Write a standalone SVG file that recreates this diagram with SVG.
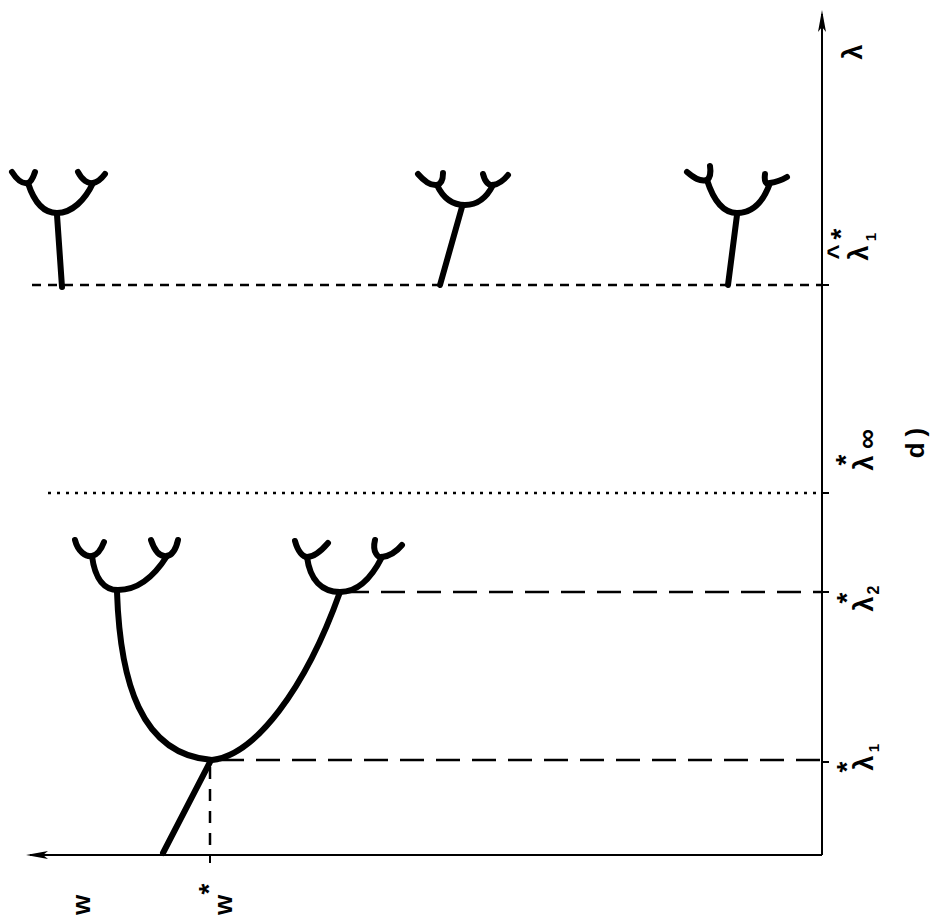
<svg xmlns="http://www.w3.org/2000/svg" width="934" height="921" viewBox="0 0 934 921">
<defs>
<style>
.ax{stroke:#000;stroke-width:2;fill:none}
.ah{fill:#000;stroke:none}
.tk{stroke:#000;stroke-width:2;fill:none}
.br{stroke:#000;stroke-width:6;fill:none;stroke-linecap:round;stroke-linejoin:round}
.sd{stroke:#000;stroke-width:2.5;fill:none;stroke-dasharray:9 7}
.dt{stroke:#000;stroke-width:2.5;fill:none;stroke-dasharray:3 6}
.ld{stroke:#000;stroke-width:2.5;fill:none;stroke-dasharray:24 12}
.vd{stroke:#000;stroke-width:2.5;fill:none;stroke-dasharray:12 10}
.t{font-family:"Liberation Sans",Arial,sans-serif;fill:#000;text-anchor:middle;font-weight:bold}
</style>
</defs>
<rect width="934" height="921" fill="#fff"/>
<g id="connectors">
<line class="ax" x1="822" y1="855" x2="822" y2="14"/>
<path class="ah" d="M822,10 L826,32 L822,27 L818,32 Z"/>
<line class="ax" x1="822" y1="855" x2="30" y2="855"/>
<path class="ah" d="M26,855 L48,851 L43,855 L48,859 Z"/>
<path class="tk" d="M822,285 H829 M822,493 H829 M822,592 H829 M822,762 H829 M210,855 V863"/>
<line class="sd" x1="32" y1="285" x2="822" y2="285"/>
<line class="dt" x1="48" y1="493" x2="822" y2="493"/>
<line class="ld" x1="345" y1="592" x2="822" y2="592"/>
<line class="ld" x1="220" y1="760" x2="822" y2="760"/>
<line class="vd" x1="210" y1="767" x2="210" y2="855"/>
</g>
<g id="tree-main">
<path class="br" d="M163,853 L210,762"/>
<path class="br" d="M117,592 C120,680 140,755 212,760 C255,755 305,690 340,592"/>
<path class="br" d="M92,556 C95,580 105,590 118,590 C140,590 155,575 167,556"/>
<path class="br" d="M75,540 C78,552 86,557 92,556 C97,555 101,550 104,542"/>
<path class="br" d="M151,540 C155,552 161,557 167,556 C172,555 176,549 178,540"/>
<path class="br" d="M307,557 C310,580 322,592 340,592 C358,592 372,577 382,557"/>
<path class="br" d="M295,541 C298,552 303,557 307,557 C315,557 322,550 328,543"/>
<path class="br" d="M375,540 C372,552 378,558 382,557 C390,556 397,551 402,545"/>
</g>
<g id="tree-a">
<path class="br" d="M57,215 L62,287"/>
<path class="br" d="M28,183 C35,205 45,213 57,213 C72,213 85,200 93,183"/>
<path class="br" d="M12,172 C17,180 23,184 28,183 C31,182 33,178 35,172"/>
<path class="br" d="M78,172 C82,180 88,184 93,183 C98,182 102,178 105,174"/>
</g>
<g id="tree-b">
<path class="br" d="M462,207 L440,285"/>
<path class="br" d="M437,185 C443,198 452,205 465,205 C478,205 487,197 493,185"/>
<path class="br" d="M418,174 C424,181 430,186 437,185 C441,184 443,180 443,173"/>
<path class="br" d="M483,174 C485,182 489,186 493,185 C499,184 504,180 508,175"/>
</g>
<g id="tree-c">
<path class="br" d="M737,215 L728,285"/>
<path class="br" d="M707,180 C714,202 724,213 737,213 C754,213 764,200 770,183"/>
<path class="br" d="M687,172 C694,178 700,182 707,180 C710,178 711,172 710,166"/>
<path class="br" d="M765,174 C764,182 766,185 770,183 C777,182 782,180 787,177"/>
</g>
<g id="labels">
<g transform="translate(862,52) rotate(-90)"><text class="t" x="0" y="0" font-size="27">λ</text></g>
<g transform="translate(868,253) rotate(-90)">
<text class="t" x="0" y="0" font-size="27">λ</text>
<text class="t" x="1" y="-22" font-size="26">^</text>
<text class="t" x="19" y="-18" font-size="28">*</text>
<text class="t" x="16" y="8" font-size="15">1</text>
</g>
<g transform="translate(873,463) rotate(-90)">
<text class="t" x="0" y="0" font-size="27">λ</text>
<text class="t" x="3" y="-18" font-size="28">*</text>
<text class="t" x="24" y="3" font-size="28">∞</text>
</g>
<g transform="translate(873,604) rotate(-90)">
<text class="t" x="0" y="0" font-size="27">λ</text>
<text class="t" x="6" y="-17" font-size="28">*</text>
<text class="t" x="14" y="6" font-size="16">2</text>
</g>
<g transform="translate(873,763) rotate(-90)">
<text class="t" x="0" y="0" font-size="27">λ</text>
<text class="t" x="-4" y="-17" font-size="28">*</text>
<text class="t" x="15" y="6" font-size="15">1</text>
</g>
<g transform="translate(924,440) rotate(-90)"><text class="t" x="0" y="0" font-size="26" font-weight="normal" letter-spacing="6">d)</text></g>
<g transform="translate(90,905) rotate(-90)"><text class="t" x="0" y="0" font-size="26" font-weight="normal">w</text></g>
<g transform="translate(232,905) rotate(-90)">
<text class="t" x="0" y="0" font-size="26" font-weight="normal">w</text>
<text class="t" x="16" y="-14" font-size="28">*</text>
</g>
</g>
</svg>
